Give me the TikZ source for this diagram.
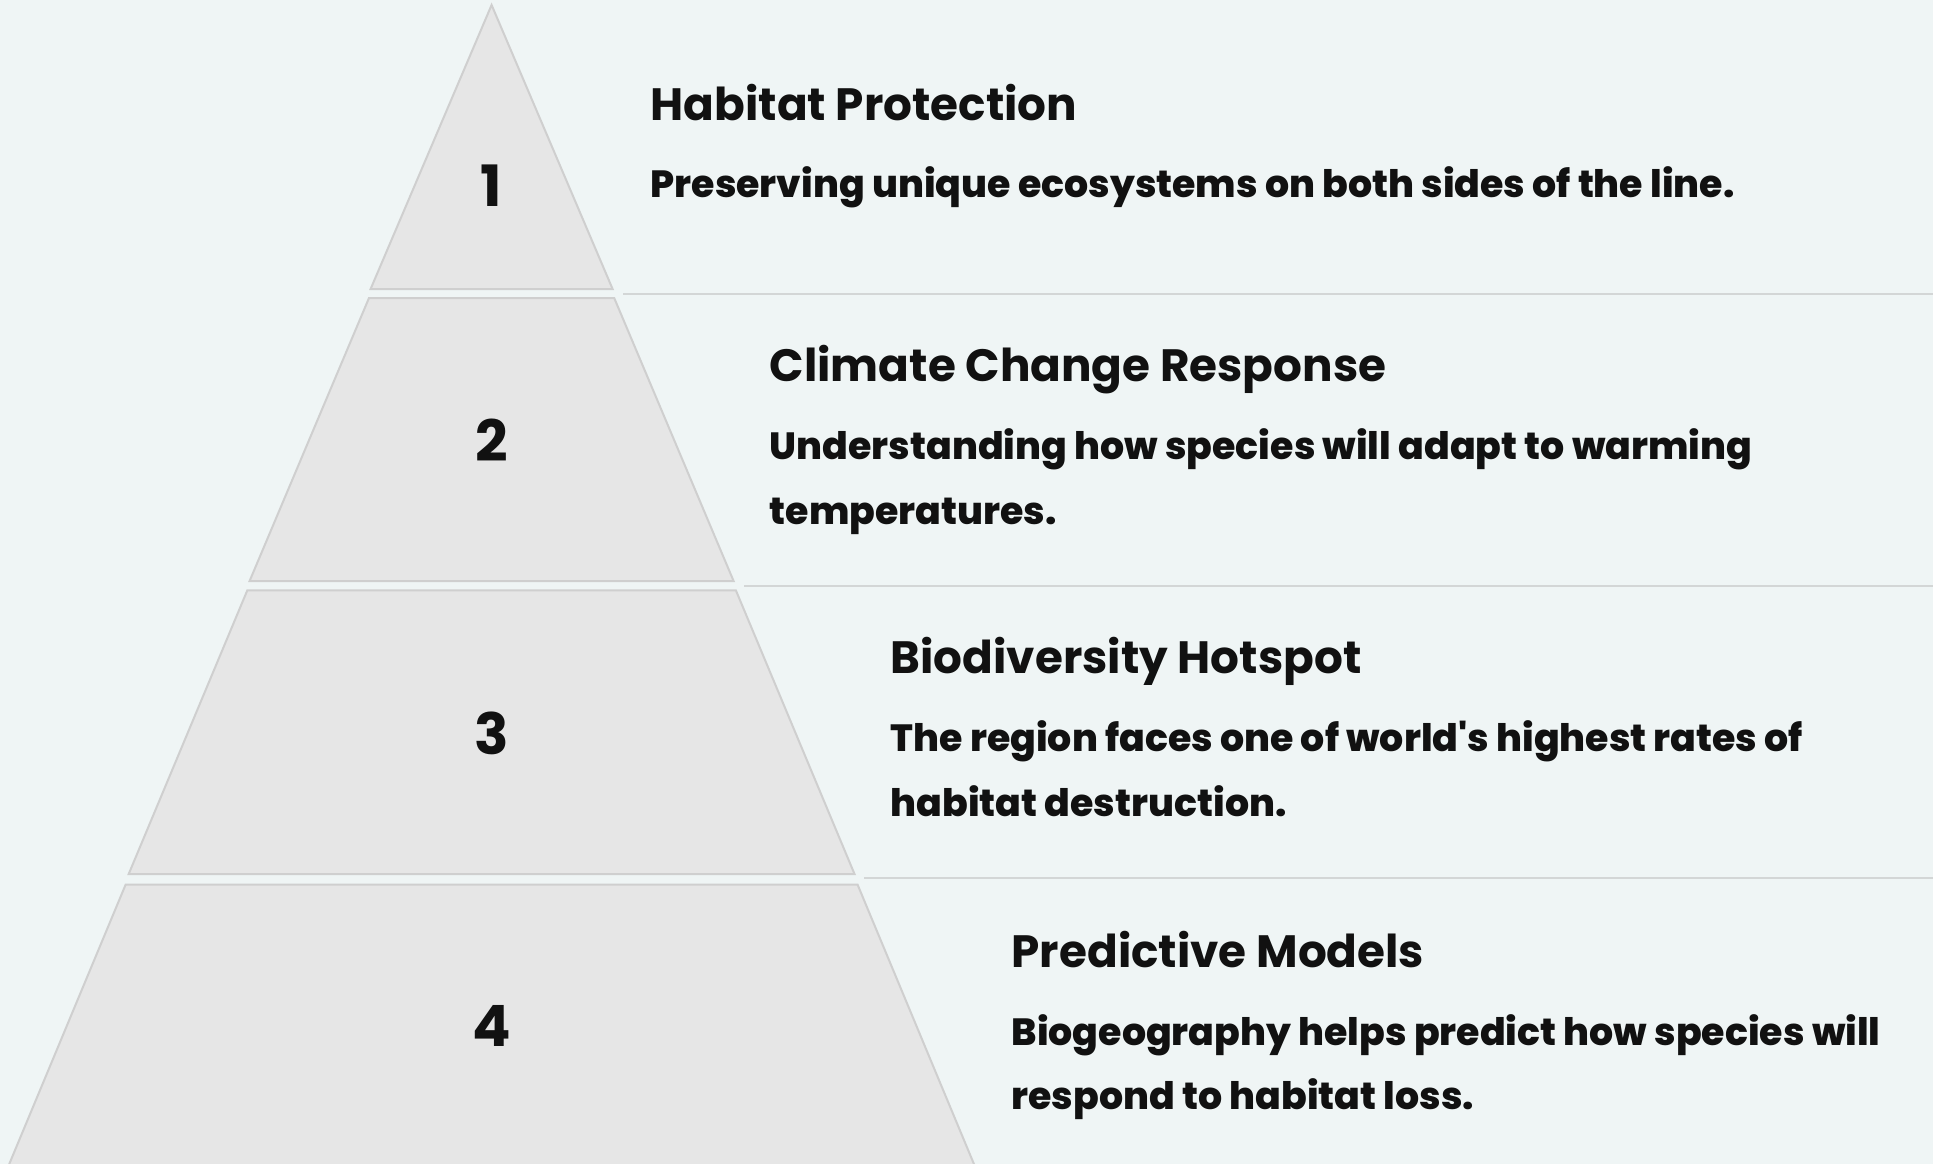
\documentclass[tikz,border=0pt]{standalone}
\usepackage{fontspec}
\setmainfont{Poppins}
\newfontfamily\descfont{Poppins ExtraBold}
\definecolor{bg}{HTML}{EFF5F5}
\definecolor{tierfill}{HTML}{E6E6E6}
\definecolor{tierline}{HTML}{CFCFCF}
\definecolor{sepline}{HTML}{D3D6D6}
\definecolor{ink}{HTML}{111111}
\begin{document}
\begin{tikzpicture}[x=1pt,y=-1pt,
  tier/.style={fill=tierfill,draw=tierline,line width=2pt,line join=miter},
  sep/.style={draw=sepline,line width=2pt},
  title/.style={anchor=base west,inner sep=0pt,text=ink,font=\fontsize{45.3}{46}\selectfont\bfseries},
  desc/.style={anchor=base west,inner sep=0pt,text=ink,font=\descfont\fontsize{37.9}{38}\selectfont},
  num/.style={anchor=center,inner sep=0pt,text=ink,font=\fontsize{57}{57}\selectfont\bfseries}]
\useasboundingbox (0,0) rectangle (1933,1164);
\fill[bg] (0,0) rectangle (1933,1164);
\begin{scope}
\clip (0,0) rectangle (1933,1164);
\draw[tier] (491.6,5) -- (612.6,289) -- (370.6,289) -- cycle;
\draw[tier] (369,298) -- (614.2,298) -- (733.6,581) -- (249.6,581) -- cycle;
\draw[tier] (247.3,590.4) -- (735.9,590.4) -- (854.5,874) -- (128.7,874) -- cycle;
\draw[tier] (125.6,884.7) -- (857.6,884.7) -- (975.6,1168) -- (7.6,1168) -- cycle;
\end{scope}
\coordinate (s1a) at (623,294.3); \coordinate (s1b) at (1933,294.3);
\coordinate (s2a) at (744,586); \coordinate (s2b) at (1933,586);
\coordinate (s3a) at (864,878); \coordinate (s3b) at (1933,878);
\draw[sep] (s1a) -- (s1b);
\draw[sep] (s2a) -- (s2b);
\draw[sep] (s3a) -- (s3b);
\node[num] (n1) at (491.6,186) {1};
\node[num] (n2) at (491.6,440) {2};
\node[num] (n3) at (491.6,733.5) {3};
\node[num] (n4) at (491.6,1026) {4};
\node[title] (t1) at (650.5,121) {Habitat Protection};
\node[desc] (d1) at (650.5,197.7) {Preserving unique ecosystems on both sides of the line.};
\node[title] (t2) at (769.5,381) {Climate Change Response};
\node[desc] (d2a) at (769.5,459.5) {Understanding how species will adapt to warming};
\node[desc] (d2b) at (769.5,524.3) {temperatures.};
\node[title] (t3) at (890.5,673.3) {Biodiversity Hotspot};
\node[desc] (d3a) at (890.5,751) {The region faces one of world's highest rates of};
\node[desc] (d3b) at (890.5,816) {habitat destruction.};
\node[title] (t4) at (1011.5,967) {Predictive Models};
\node[desc] (d4a) at (1011.5,1045) {Biogeography helps predict how species will};
\node[desc] (d4b) at (1011.5,1109) {respond to habitat loss.};
\end{tikzpicture}
\end{document}
